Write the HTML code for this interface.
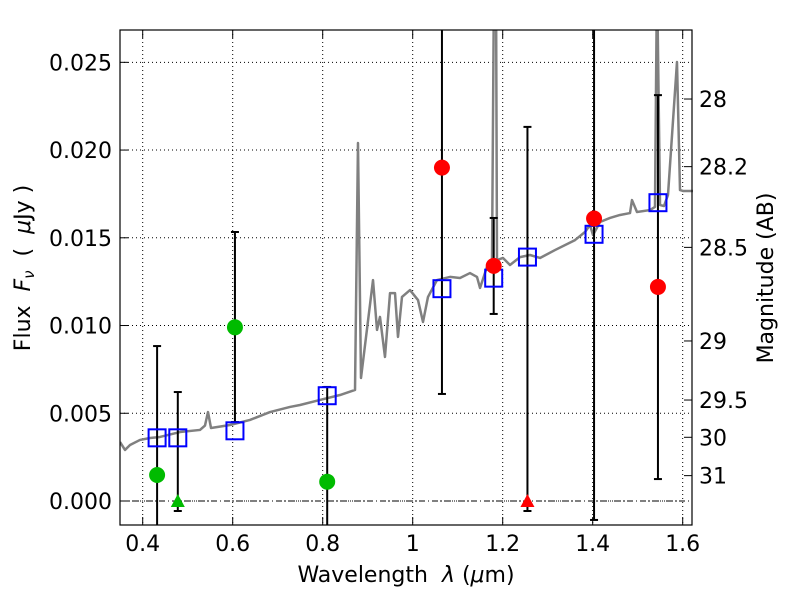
<!DOCTYPE html>
<html><head><meta charset="utf-8"><style>
body{margin:0;background:#fff}
svg text{font-family:"DejaVu Sans","Liberation Sans",sans-serif;fill:#000}
</style></head><body>
<svg id="chart" width="800" height="600" viewBox="0 0 800 600" xmlns="http://www.w3.org/2000/svg">
<rect width="800" height="600" fill="#fff"/>
<defs><clipPath id="clip"><rect x="120" y="30" width="573" height="495"/></clipPath></defs>
<g id="grid"></g>
<g id="plot" clip-path="url(#clip)"></g>
<rect x="120" y="30" width="572" height="495" fill="none" stroke="#000" stroke-width="1.2"/>
<g id="axes"></g>
<text x="406" y="582" font-size="22" text-anchor="middle" xml:space="preserve">Wavelength  <tspan font-style="italic">λ</tspan> (<tspan font-style="italic">μ</tspan>m)</text>
<text transform="translate(30,268) rotate(-90)" font-size="22" text-anchor="middle" xml:space="preserve">Flux  <tspan font-style="italic">F</tspan><tspan font-style="italic" font-size="15" dy="4">ν</tspan><tspan dy="-4">  (  </tspan><tspan font-style="italic">μ</tspan>Jy )</text>
<text transform="translate(773,278) rotate(-90)" font-size="22" text-anchor="middle">Magnitude (AB)</text>
</svg>
<script>
const xTicks=[0.4,0.6,0.8,1.0,1.2,1.4,1.6];
const xTickLabels=["0.4","0.6","0.8","1","1.2","1.4","1.6"];
const yTicks=[0,0.005,0.010,0.015,0.020,0.025];
const yTickLabels=["0.000","0.005","0.010","0.015","0.020","0.025"];
const magTicks=[28,28.2,28.5,29,29.5,30,31];
const magTickLabels=["28","28.2","28.5","29","29.5","30","31"];
const specWl=[0.3496,0.3607,0.3718,0.394,0.4162,0.4384,0.4829,0.5273,0.5384,0.5451,0.5518,0.594,0.6384,0.6829,0.7273,0.7496,0.794,0.8384,0.8718,0.8784,0.8851,0.9118,0.9207,0.9273,0.9384,0.9496,0.9607,0.9673,0.9762,0.994,1.0118,1.0229,1.034,1.054,1.0829,1.1051,1.1273,1.1429,1.1496,1.1651,1.1762,1.1807,1.1851,1.1873,1.2007,1.2162,1.2384,1.2607,1.2829,1.3162,1.3607,1.3829,1.394,1.4007,1.4162,1.4384,1.4607,1.4829,1.4873,1.4984,1.5273,1.5384,1.5429,1.5496,1.5584,1.5673,1.5873,1.594,1.6007,1.6229];
const specFlux=[0.00336,0.00291,0.00319,0.00348,0.00359,0.00365,0.00393,0.00405,0.0043,0.00507,0.00416,0.00433,0.00462,0.00507,0.00536,0.00547,0.00576,0.00604,0.00633,0.0204,0.00701,0.01259,0.00975,0.01049,0.00821,0.01185,0.01185,0.00935,0.01163,0.01202,0.01145,0.0102,0.01163,0.01259,0.01277,0.01271,0.01299,0.01277,0.01214,0.01334,0.01356,0.03,0.03,0.01373,0.01385,0.01345,0.0139,0.01402,0.01385,0.0143,0.01487,0.01533,0.01573,0.01516,0.0159,0.01613,0.0163,0.01641,0.01715,0.01647,0.01658,0.01676,0.03,0.01687,0.01681,0.01744,0.02502,0.01772,0.01767,0.01767];
const modelWl=[0.432,0.478,0.605,0.81,1.065,1.18,1.255,1.403,1.545];
const modelFlux=[0.0036,0.0036,0.0040,0.0060,0.0121,0.0127,0.0139,0.0152,0.0170];
const errLo=[-0.003,-0.00057,0.0045,-0.003,0.0061,0.01066,-0.00057,-0.00108,0.00125];
const errHi=[0.00883,0.00621,0.01533,0.0065,0.03,0.01613,0.02132,0.03,0.02313];
const greenWl=[0.432,0.605,0.81];
const greenFlux=[0.00148,0.0099,0.0011];
const greenLimWl=[0.478];
const redWl=[1.065,1.18,1.403,1.545];
const redFlux=[0.019,0.0134,0.0161,0.0122];
const redLimWl=[1.255];

const NS="http://www.w3.org/2000/svg";
const X=v=>142.7+(v-0.4)*450;
const Y=f=>501-f*17547;
const mag2flux=m=>Math.pow(10,(23.9-m)/2.5);
function mk(tag,attrs,parent){const e=document.createElementNS(NS,tag);for(const k in attrs)e.setAttribute(k,attrs[k]);parent.appendChild(e);return e;}
const grid=document.getElementById('grid'),plot=document.getElementById('plot'),axes=document.getElementById('axes');

xTicks.forEach((v,i)=>{
  const g=mk('line',{x1:X(v),x2:X(v),y1:30,y2:525,stroke:'#000','stroke-width':1,'stroke-dasharray':'1,3'},grid);
  
  
  const t1=mk('line',{x1:X(v),x2:X(v),y1:525,y2:517,stroke:'#000'},axes);
  
  
  const t2=mk('line',{x1:X(v),x2:X(v),y1:30,y2:38,stroke:'#000'},axes);
  
  
  const l=mk('text',{x:X(v),y:551,'font-size':22,'text-anchor':'middle'},axes);
  l.textContent=xTickLabels[i];
  
  
});
yTicks.forEach((v,i)=>{
  const g=mk('line',{x1:120,x2:692,y1:Y(v),y2:Y(v),stroke:'#000','stroke-width':1,'stroke-dasharray':'1,3'},grid);
  
  
  const t=mk('line',{x1:120,x2:128,y1:Y(v),y2:Y(v),stroke:'#000'},axes);
  
  
  const l=mk('text',{x:112,y:Y(v)+8,'font-size':22,'text-anchor':'end'},axes);
  l.textContent=yTickLabels[i];
  
  
});
magTicks.forEach((m,i)=>{
  const y=Y(mag2flux(m));
  const t=mk('line',{x1:684,x2:692,y1:y,y2:y,stroke:'#000'},axes);
  
  
  const l=mk('text',{x:699,y:y+8,'font-size':22},axes);
  l.textContent=magTickLabels[i];
  
  
});
const zl=mk('line',{x1:120,x2:692,y1:Y(0),y2:Y(0),stroke:'#000','stroke-width':1,'stroke-dasharray':'6,3,1,3'},plot);



const sp=mk('polyline',{points:specWl.map((w,i)=>X(w)+','+Y(specFlux[i])).join(' '),fill:'none',stroke:'#808080','stroke-width':2.5,'stroke-linejoin':'round'},plot);



modelWl.forEach((w,i)=>{
  const x=X(w),y1=Y(errLo[i]),y2=Y(errHi[i]);
  const e=mk('line',{x1:x,x2:x,y1:y1,y2:y2,stroke:'#000','stroke-width':2},plot);
  
  
  [y1,y2].forEach(y=>{const c=mk('line',{x1:x-4,x2:x+4,y1:y,y2:y,stroke:'#000','stroke-width':2},plot);
    
    });
});
modelWl.forEach((w,i)=>{
  const r=mk('rect',{x:X(w)-8.5,y:Y(modelFlux[i])-8.5,width:17,height:17,fill:'none',stroke:'#0000ff','stroke-width':2},plot);
  
  
});
greenWl.forEach((w,i)=>{
  const c=mk('circle',{cx:X(w),cy:Y(greenFlux[i]),r:8,fill:'#00bb00'},plot);
  
  
});
greenLimWl.forEach(w=>{
  const x=X(w),y=Y(0);
  const p=mk('polygon',{points:`${x-7},${y+6} ${x+7},${y+6} ${x},${y-7}`,fill:'#00bb00'},plot);
  
  
});
redWl.forEach((w,i)=>{
  const c=mk('circle',{cx:X(w),cy:Y(redFlux[i]),r:8,fill:'#ff0000'},plot);
  
  
});
redLimWl.forEach(w=>{
  const x=X(w),y=Y(0);
  const p=mk('polygon',{points:`${x-7},${y+6} ${x+7},${y+6} ${x},${y-7}`,fill:'#ff0000'},plot);
  
  
});
</script>
</body></html>
